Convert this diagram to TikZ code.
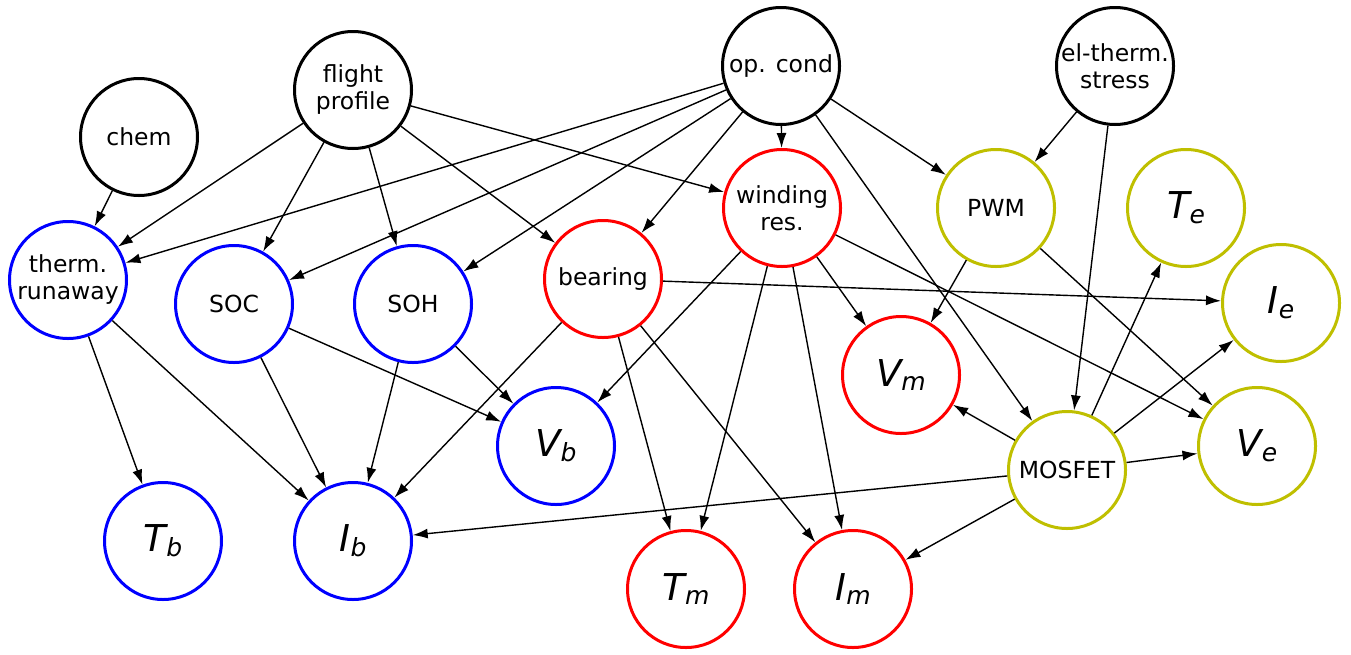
\documentclass[tikz,border=0pt]{standalone}
\usepackage{fontspec}
\setmainfont{DejaVu Sans}
\usetikzlibrary{arrows.meta}
\definecolor{bnode}{RGB}{0,0,255}
\definecolor{rnode}{RGB}{255,0,0}
\definecolor{ynode}{RGB}{191,191,0}
\newcommand\varlab[2]{{\fontsize{37}{37}\selectfont\itshape #1}\raisebox{-4.7pt}{\fontsize{25}{25}\selectfont\itshape #2}}
\tikzset{
  vnode/.style={circle, draw, line width=3pt, minimum size=117pt, inner sep=0pt, align=center, font=\fontsize{23.5}{27}\selectfont},
  knode/.style={vnode, draw=black},
  bluenode/.style={vnode, draw=bnode},
  rednode/.style={vnode, draw=rnode},
  yelnode/.style={vnode, draw=ynode},
  conn/.style={line width=1.4pt, -{Latex[length=15pt,width=10pt]}}
}
\begin{document}
\begin{tikzpicture}[x=1pt,y=-1pt]
\useasboundingbox (0,0) rectangle (1351,654);
% nodes
\node[knode] (chem) at (139,137) {chem};
\node[knode] (flight) at (353,90) {flight\\profile};
\node[knode] (op) at (781,66) {op. cond};
\node[knode] (el) at (1115,66) {el-therm.\\stress};
\node[bluenode] (therm) at (68,280) {therm.\\runaway};
\node[bluenode] (soc) at (234,304) {SOC};
\node[bluenode] (soh) at (413,304) {SOH};
\node[rednode] (bearing) at (603,279) {bearing};
\node[rednode] (winding) at (782,208) {winding\\res.};
\node[yelnode] (pwm) at (996,208) {PWM};
\node[yelnode] (te) at (1186,208) {\varlab{T}{e}};
\node[yelnode] (ie) at (1281,303) {\varlab{I}{e}};
\node[rednode] (vm) at (901,375) {\varlab{V}{m}};
\node[bluenode] (vb) at (556,446) {\varlab{V}{b}};
\node[yelnode] (mosfet) at (1067,470) {MOSFET};
\node[yelnode] (ve) at (1257,446) {\varlab{V}{e}};
\node[bluenode] (tb) at (163,541) {\varlab{T}{b}};
\node[bluenode] (ib) at (353,541) {\varlab{I}{b}};
\node[rednode] (tm) at (686,589) {\varlab{T}{m}};
\node[rednode] (im) at (853,589) {\varlab{I}{m}};
% edges
\draw[conn] (chem) -- (therm);
\draw[conn] (flight) -- (therm);
\draw[conn] (flight) -- (soc);
\draw[conn] (flight) -- (soh);
\draw[conn] (flight) -- (bearing);
\draw[conn] (flight) -- (winding);
\draw[conn] (op) -- (therm);
\draw[conn] (op) -- (soc);
\draw[conn] (op) -- (soh);
\draw[conn] (op) -- (bearing);
\draw[conn] (op) -- (winding);
\draw[conn] (op) -- (pwm);
\draw[conn] (op) -- (mosfet);
\draw[conn] (el) -- (pwm);
\draw[conn] (el) -- (mosfet);
\draw[conn] (therm) -- (tb);
\draw[conn] (therm) -- (ib);
\draw[conn] (soc) -- (ib);
\draw[conn] (soc) -- (vb);
\draw[conn] (soh) -- (ib);
\draw[conn] (soh) -- (vb);
\draw[conn] (bearing) -- (ib);
\draw[conn] (bearing) -- (tm);
\draw[conn] (bearing) -- (im);
\draw[conn] (bearing) -- (ie);
\draw[conn] (winding) -- (vb);
\draw[conn] (winding) -- (tm);
\draw[conn] (winding) -- (im);
\draw[conn] (winding) -- (vm);
\draw[conn] (winding) -- (ve);
\draw[conn] (pwm) -- (vm);
\draw[conn] (pwm) -- (ve);
\draw[conn] (mosfet) -- (vm);
\draw[conn] (mosfet) -- (te);
\draw[conn] (mosfet) -- (ie);
\draw[conn] (mosfet) -- (ve);
\draw[conn] (mosfet) -- (im);
\draw[conn] (mosfet) -- (ib);
\end{tikzpicture}
\end{document}
